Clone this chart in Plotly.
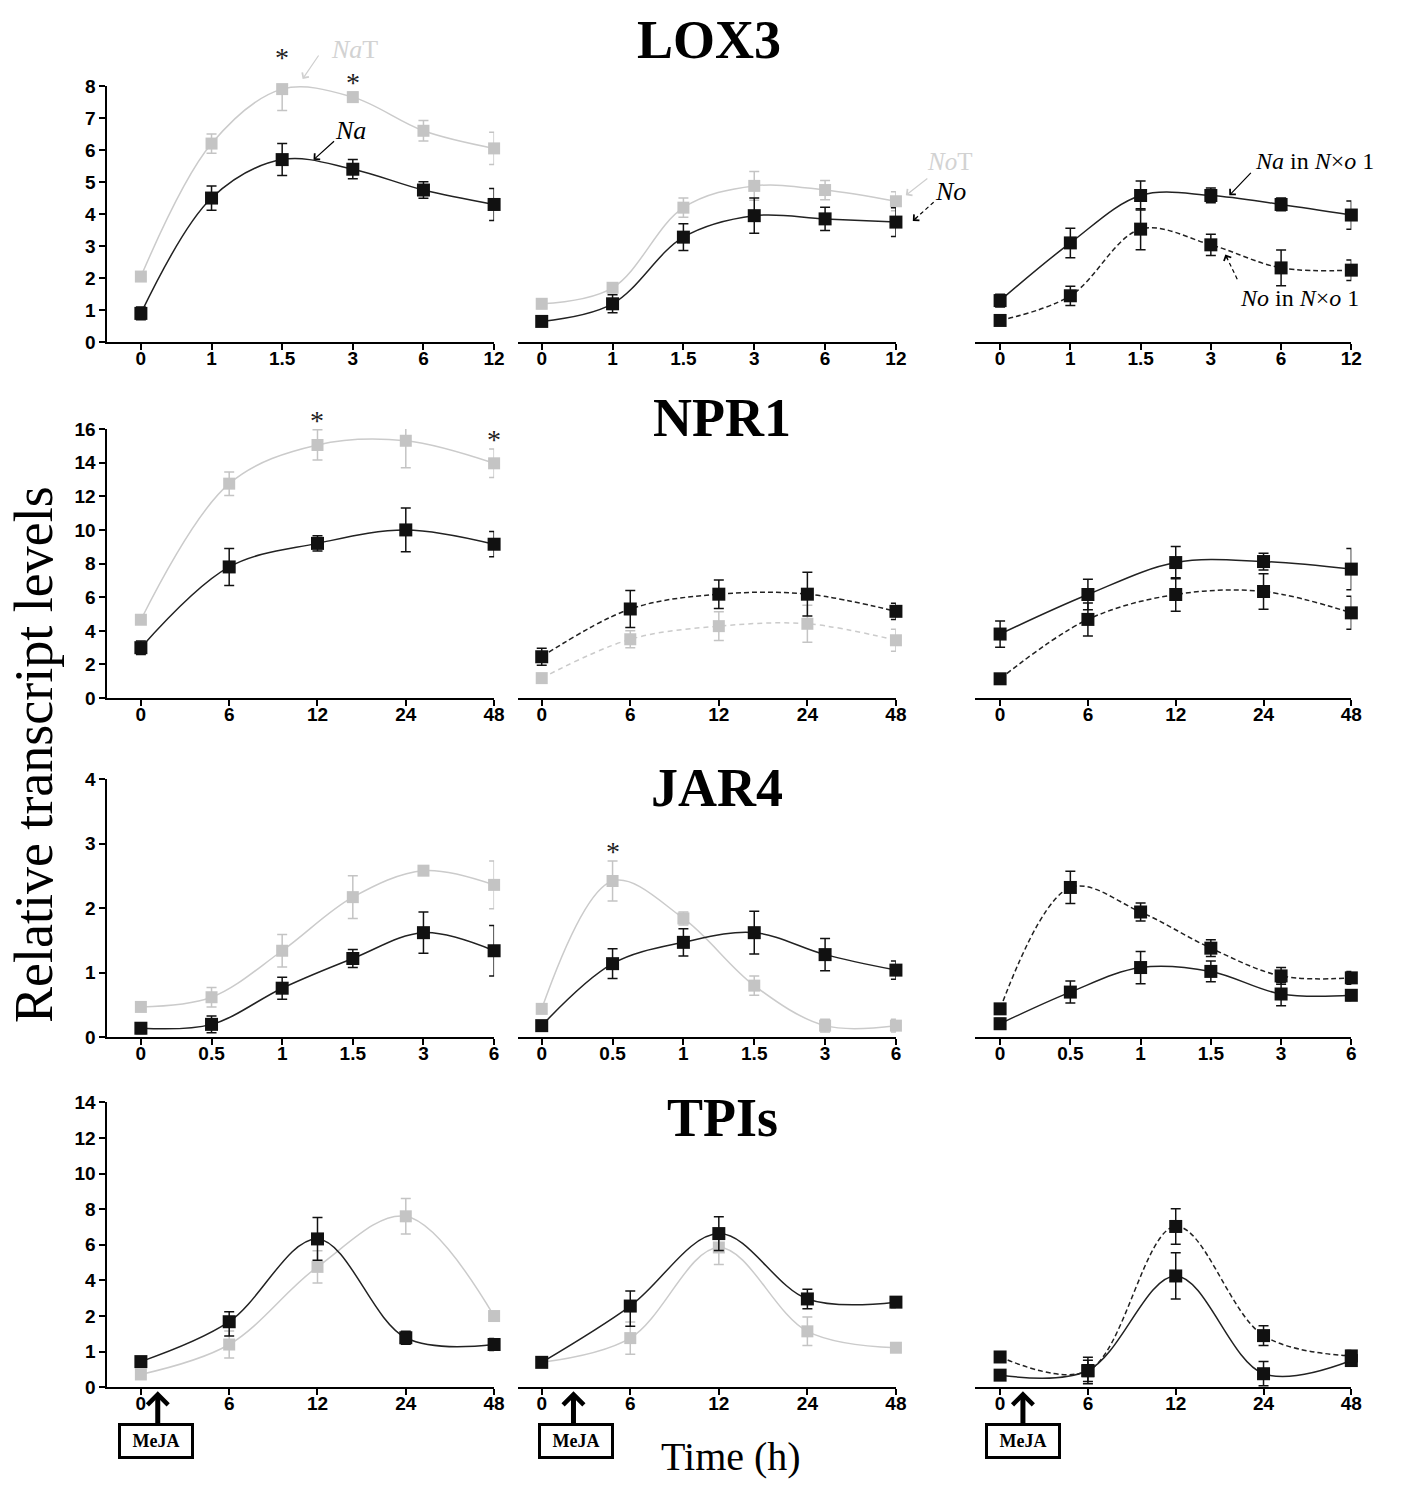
import plotly.graph_objects as go

W, H = 1405, 1486

# ---------------- time points (category labels) ----------------
LOX3_T = ["0", "1", "1.5", "3", "6", "12"]
NPR1_T = ["0", "6", "12", "24", "48"]
JAR4_T = ["0", "0.5", "1", "1.5", "3", "6"]
TPI_T = ["0", "6", "12", "24", "48"]

# ---------------- LOX3 ----------------
LOX3_NA = [0.9, 4.5, 5.7, 5.4, 4.75, 4.3]
LOX3_NA_SE = [0.2, 0.38, 0.5, 0.3, 0.26, 0.5]
LOX3_NAT = [2.05, 6.2, 7.9, 7.65, 6.6, 6.05]
LOX3_NAT_SE = [0.15, 0.3, 0.67, 0.15, 0.32, 0.5]
LOX3_NO = [0.65, 1.2, 3.28, 3.95, 3.85, 3.75]
LOX3_NO_SE = [0.15, 0.28, 0.42, 0.55, 0.36, 0.45]
LOX3_NOT = [1.2, 1.7, 4.2, 4.88, 4.75, 4.4]
LOX3_NOT_SE = [0.15, 0.15, 0.3, 0.45, 0.3, 0.3]
LOX3_NA_F1 = [1.3, 3.1, 4.58, 4.58, 4.3, 3.97]
LOX3_NA_F1_SE = [0.2, 0.46, 0.45, 0.23, 0.2, 0.44]
LOX3_NO_F1 = [0.68, 1.45, 3.53, 3.04, 2.32, 2.25]
LOX3_NO_F1_SE = [0.15, 0.3, 0.64, 0.33, 0.56, 0.32]

# ---------------- NPR1 ----------------
NPR1_NA = [3.0, 7.8, 9.2, 10.0, 9.15]
NPR1_NA_SE = [0.4, 1.1, 0.45, 1.3, 0.75]
NPR1_NAT = [4.66, 12.75, 15.05, 15.3, 13.96]
NPR1_NAT_SE = [0.2, 0.7, 0.9, 1.6, 0.85]
NPR1_NO = [2.46, 5.3, 6.18, 6.18, 5.16]
NPR1_NO_SE = [0.5, 1.1, 0.85, 1.3, 0.48]
NPR1_NOT = [1.19, 3.5, 4.28, 4.42, 3.44]
NPR1_NOT_SE = [0.2, 0.5, 0.85, 1.1, 0.65]
NPR1_NA_F1 = [3.81, 6.16, 8.06, 8.12, 7.67]
NPR1_NA_F1_SE = [0.78, 0.9, 0.96, 0.5, 1.23]
NPR1_NO_F1 = [1.15, 4.68, 6.16, 6.34, 5.07]
NPR1_NO_F1_SE = [0.3, 0.98, 1.0, 1.05, 0.98]

# ---------------- JAR4 ----------------
JAR4_NA = [0.14, 0.2, 0.76, 1.22, 1.62, 1.34]
JAR4_NA_SE = [0.08, 0.13, 0.17, 0.14, 0.32, 0.39]
JAR4_NAT = [0.47, 0.62, 1.34, 2.17, 2.58, 2.36]
JAR4_NAT_SE = [0.06, 0.15, 0.25, 0.33, 0.05, 0.37]
JAR4_NO = [0.18, 1.14, 1.47, 1.62, 1.28, 1.04]
JAR4_NO_SE = [0.07, 0.23, 0.21, 0.33, 0.25, 0.14]
JAR4_NOT = [0.44, 2.42, 1.84, 0.8, 0.18, 0.18]
JAR4_NOT_SE = [0.07, 0.31, 0.1, 0.15, 0.1, 0.1]
JAR4_NA_F1 = [0.21, 0.70, 1.08, 1.02, 0.67, 0.65]
JAR4_NA_F1_SE = [0.08, 0.17, 0.25, 0.16, 0.18, 0.08]
JAR4_NO_F1 = [0.44, 2.32, 1.94, 1.38, 0.95, 0.92]
JAR4_NO_F1_SE = [0.08, 0.25, 0.14, 0.13, 0.13, 0.1]

# ---------------- TPIs ----------------
TPI_NA = [0.72, 1.84, 6.33, 1.39, 1.2]
TPI_NA_SE = [0.13, 0.4, 1.2, 0.18, 0.17]
TPI_NAT = [0.36, 1.2, 4.76, 7.6, 2.0]
TPI_NAT_SE = [0.1, 0.38, 0.9, 1.0, 0.15]
TPI_NO = [0.7, 2.56, 6.63, 2.96, 2.78]
TPI_NO_SE = [0.12, 0.85, 0.95, 0.55, 0.3]
TPI_NOT = [0.7, 1.38, 5.85, 1.57, 1.11]
TPI_NOT_SE = [0.1, 0.45, 0.95, 0.4, 0.1]
TPI_NA_F1 = [0.34, 0.47, 4.25, 0.38, 0.75]
TPI_NA_F1_SE = [0.1, 0.37, 1.3, 0.34, 0.15]
TPI_NO_F1 = [0.85, 0.46, 7.03, 1.45, 0.88]
TPI_NO_F1_SE = [0.12, 0.3, 1.0, 0.28, 0.15]

# TPIs y axis tick labels (broken scale: unit steps up to 2, then steps of 2)
TPI_TICKS = [0, 1, 2, 4, 6, 8, 10, 12, 14]


def tpi_scale(v):
    """Map a TPIs value onto the broken y axis."""
    return v if v <= 2 else 2 + (v - 2) / 2


def identity(v):
    return v


# ---------------- styles ----------------
GRAY = "#c4c4c4"
GRAY_LINE = "#cbcbcb"
BLACK = "#111111"
SERIF = "Liberation Serif, Times New Roman, serif"
SANS = "Liberation Sans, Arial, sans-serif"

STYLE = {
    "gray": dict(color=GRAY, line=GRAY_LINE, size=12, dash="solid"),
    "gray_dash": dict(color=GRAY, line=GRAY_LINE, size=12, dash="5px,4px"),
    "black": dict(color=BLACK, line="#222222", size=13, dash="solid"),
    "black_dash": dict(color=BLACK, line="#222222", size=13, dash="5px,3px"),
}

# ---------------- panel grid (pixel geometry) ----------------
# columns: (axis start, first tick, axis end)
COLS = [(108, 142, 498), (522, 546, 903), (983, 1008, 1362)]
# rows: (pixel of zero, pixel of top)
ROWS = [(337, 77), (698, 425), (1042, 780), (1397, 1108)]
ROW_YMAX = [8, 16, 4, tpi_scale(14)]
ROW_DTICK = [1, 2, 1, None]
ROW_TIMES = [LOX3_T, NPR1_T, JAR4_T, TPI_T]
ROW_SCALE = [identity, identity, identity, tpi_scale]

PANELS = [
    # row 0: LOX3
    [[(LOX3_NAT, LOX3_NAT_SE, "gray"), (LOX3_NA, LOX3_NA_SE, "black")],
     [(LOX3_NOT, LOX3_NOT_SE, "gray"), (LOX3_NO, LOX3_NO_SE, "black")],
     [(LOX3_NA_F1, LOX3_NA_F1_SE, "black"), (LOX3_NO_F1, LOX3_NO_F1_SE, "black_dash")]],
    # row 1: NPR1
    [[(NPR1_NAT, NPR1_NAT_SE, "gray"), (NPR1_NA, NPR1_NA_SE, "black")],
     [(NPR1_NOT, NPR1_NOT_SE, "gray_dash"), (NPR1_NO, NPR1_NO_SE, "black_dash")],
     [(NPR1_NA_F1, NPR1_NA_F1_SE, "black"), (NPR1_NO_F1, NPR1_NO_F1_SE, "black_dash")]],
    # row 2: JAR4
    [[(JAR4_NAT, JAR4_NAT_SE, "gray"), (JAR4_NA, JAR4_NA_SE, "black")],
     [(JAR4_NOT, JAR4_NOT_SE, "gray"), (JAR4_NO, JAR4_NO_SE, "black")],
     [(JAR4_NA_F1, JAR4_NA_F1_SE, "black"), (JAR4_NO_F1, JAR4_NO_F1_SE, "black_dash")]],
    # row 3: TPIs
    [[(TPI_NAT, TPI_NAT_SE, "gray"), (TPI_NA, TPI_NA_SE, "black")],
     [(TPI_NOT, TPI_NOT_SE, "gray"), (TPI_NO, TPI_NO_SE, "black")],
     [(TPI_NA_F1, TPI_NA_F1_SE, "black"), (TPI_NO_F1, TPI_NO_F1_SE, "black_dash")]],
]

fig = go.Figure()
layout = {}


def ax_name(k, letter):
    return letter if k == 1 else f"{letter}{k}"


k = 0
for r in range(4):
    times = ROW_TIMES[r]
    n = len(times)
    f = ROW_SCALE[r]
    y0px, y1px = ROWS[r]
    for c in range(3):
        k += 1
        x0px, firstpx, x1px = COLS[c]
        step = (x1px - firstpx) / (n - 1)
        lo = -(firstpx - x0px) / step
        xa, ya = ax_name(k, "x"), ax_name(k, "y")
        layout[ax_name(k, "xaxis")] = dict(
            domain=[x0px / W, x1px / W], range=[lo, n - 1], anchor=ya,
            tickmode="array", tickvals=list(range(n)), ticktext=times,
            showline=True, linecolor="black", linewidth=1.5,
            ticks="outside", ticklen=6, tickwidth=1.5, tickcolor="black",
            ticklabelstandoff=-8,
            tickfont=dict(family=SANS, size=19, color="black", weight="bold"),
            showgrid=False, zeroline=False, fixedrange=True,
        )
        ydict = dict(
            domain=[1 - y0px / H, 1 - y1px / H], range=[0, ROW_YMAX[r]], anchor=xa,
            showgrid=False, zeroline=False, fixedrange=True,
        )
        if c == 0:
            ydict.update(
                showline=True, linecolor="black", linewidth=1.5,
                ticks="outside", ticklen=6, tickwidth=1.5, tickcolor="black",
                tickfont=dict(family=SANS, size=19, color="black", weight="bold"),
            )
            if ROW_DTICK[r] is None:
                ydict.update(tickmode="array",
                             tickvals=[tpi_scale(v) for v in TPI_TICKS],
                             ticktext=[str(v) for v in TPI_TICKS])
            else:
                ydict.update(tickmode="linear", tick0=0, dtick=ROW_DTICK[r])
        else:
            ydict.update(visible=False)
        layout[ax_name(k, "yaxis")] = ydict

        for vals, se, sname in PANELS[r][c]:
            st = STYLE[sname]
            y = [f(v) for v in vals]
            up = [f(v + e) - f(v) for v, e in zip(vals, se)]
            dn = [f(v) - f(v - e) for v, e in zip(vals, se)]
            fig.add_trace(go.Scatter(
                x=list(range(n)), y=y, xaxis=xa, yaxis=ya,
                mode="lines+markers", cliponaxis=False,
                line=dict(color=st["line"], width=1.5, shape="spline",
                          dash=st["dash"]),
                marker=dict(symbol="square", size=st["size"], color=st["color"]),
                error_y=dict(type="data", symmetric=False, array=up,
                             arrayminus=dn, color=st["color"],
                             thickness=1.5, width=5),
                showlegend=False, hoverinfo="skip",
            ))

annotations = []
shapes = []


def px(xp, yp):
    return xp / W, 1 - yp / H


# gene titles
for name, (cx, cy) in [("LOX3", (715, 30)), ("NPR1", (728, 414)),
                       ("JAR4", (723, 789)), ("TPIs", (728, 1124))]:
    X, Y = px(cx, cy)
    annotations.append(dict(
        text=f"<b>{name}</b>", x=X, y=Y, xref="paper", yref="paper",
        xanchor="center", yanchor="middle", showarrow=False,
        font=dict(family=SERIF, size=54, color="black")))

# axis titles
X, Y = px(35, 755)
annotations.append(dict(
    text="Relative transcript levels", x=X, y=Y, xref="paper", yref="paper",
    textangle=-90, xanchor="center", yanchor="middle", showarrow=False,
    font=dict(family=SERIF, size=54, color="black")))
X, Y = px(737, 1467)
annotations.append(dict(
    text="Time (h)", x=X, y=Y, xref="paper", yref="paper",
    xanchor="center", yanchor="middle", showarrow=False,
    font=dict(family=SERIF, size=40, color="black")))

# series labels
LABELS = [
    ("<i>Na</i>T", 357, 40, "#d2d2d2", 26),
    ("<i>Na</i>", 353, 122, "black", 26),
    ("<i>No</i>T", 957, 154, "#d2d2d2", 25),
    ("<i>No</i>", 958, 184, "black", 26),
    ("<i>Na</i> in <i>N</i>×<i>o</i> 1", 1325, 153, "black", 24),
    ("<i>No</i> in <i>N</i>×<i>o</i> 1", 1310, 292, "black", 24),
]
for text, cx, cy, col, size in LABELS:
    X, Y = px(cx, cy)
    annotations.append(dict(
        text=text, x=X, y=Y, xref="paper", yref="paper",
        xanchor="center", yanchor="middle", showarrow=False,
        font=dict(family=SERIF, size=size, color=col)))

# label pointers: (tail, tip, colour, dashed)
POINTERS = [
    ((322, 45), (305, 70), "#cfcfcf", False),
    ((338, 132), (316, 152), "black", False),
    ((936, 170), (913, 188), "#cfcfcf", False),
    ((941, 195), (920, 214), "black", True),
    ((1262, 164), (1239, 188), "black", False),
    ((1247, 273), (1235, 248), "black", True),
]
for (tx, ty), (hx, hy), col, dashed in POINTERS:
    X, Y = px(hx, hy)
    if dashed:
        X0, Y0 = px(tx, ty)
        shapes.append(dict(type="line", xref="paper", yref="paper",
                           x0=X0, y0=Y0, x1=X, y1=Y,
                           line=dict(color=col, width=1.2, dash="4px,3px")))
        dx, dy = tx - hx, ty - hy
        L = (dx * dx + dy * dy) ** 0.5
        ax, ay = dx / L * 7, dy / L * 7
    else:
        ax, ay = tx - hx, ty - hy
    annotations.append(dict(
        text="", x=X, y=Y, xref="paper", yref="paper", ax=ax, ay=ay,
        showarrow=True, arrowhead=4, arrowsize=1.3, arrowwidth=1.2,
        arrowcolor=col))

# significance marks: (row, col, category index, series)
STARS = [
    (0, 0, 2, LOX3_NAT, LOX3_NAT_SE),
    (0, 0, 3, LOX3_NAT, LOX3_NAT_SE),
    (1, 0, 2, NPR1_NAT, NPR1_NAT_SE),
    (1, 0, 4, NPR1_NAT, NPR1_NAT_SE),
    (2, 1, 1, JAR4_NOT, JAR4_NOT_SE),
]
for r, c, i, vals, se in STARS:
    kk = r * 3 + c + 1
    f = ROW_SCALE[r]
    ppu = (ROWS[r][0] - ROWS[r][1]) / ROW_YMAX[r]   # pixels per axis unit
    bar = (f(vals[i] + se[i]) - f(vals[i])) * ppu
    annotations.append(dict(
        text="*", x=i, y=f(vals[i]), xref=ax_name(kk, "x"),
        yref=ax_name(kk, "y"), xanchor="center", yanchor="bottom",
        yshift=bar - 8, showarrow=False,
        font=dict(family=SERIF, size=28, color="#222222")))

# MeJA treatment markers under the TPIs panels
for bx, arrow_x in [(157, 159), (581, 578), (1031, 1031)]:
    X, Y = px(bx, 1452)
    annotations.append(dict(
        text="<b>MeJA</b>", x=X, y=Y, xref="paper", yref="paper",
        xanchor="center", yanchor="middle", showarrow=False,
        width=66, height=26, borderpad=2, bordercolor="black", borderwidth=3,
        bgcolor="white", font=dict(family=SERIF, size=18, color="black")))
    X, Y = px(arrow_x, 1401)
    annotations.append(dict(
        text="", x=X, y=Y, xref="paper", yref="paper", ax=0, ay=34,
        showarrow=True, arrowhead=4, arrowsize=0.8, arrowwidth=5,
        arrowcolor="black"))

fig.update_layout(
    width=W, height=H, margin=dict(l=0, r=0, t=0, b=0),
    paper_bgcolor="white", plot_bgcolor="white", showlegend=False,
    annotations=annotations, shapes=shapes, **layout,
)

fig.write_html("out.html")
